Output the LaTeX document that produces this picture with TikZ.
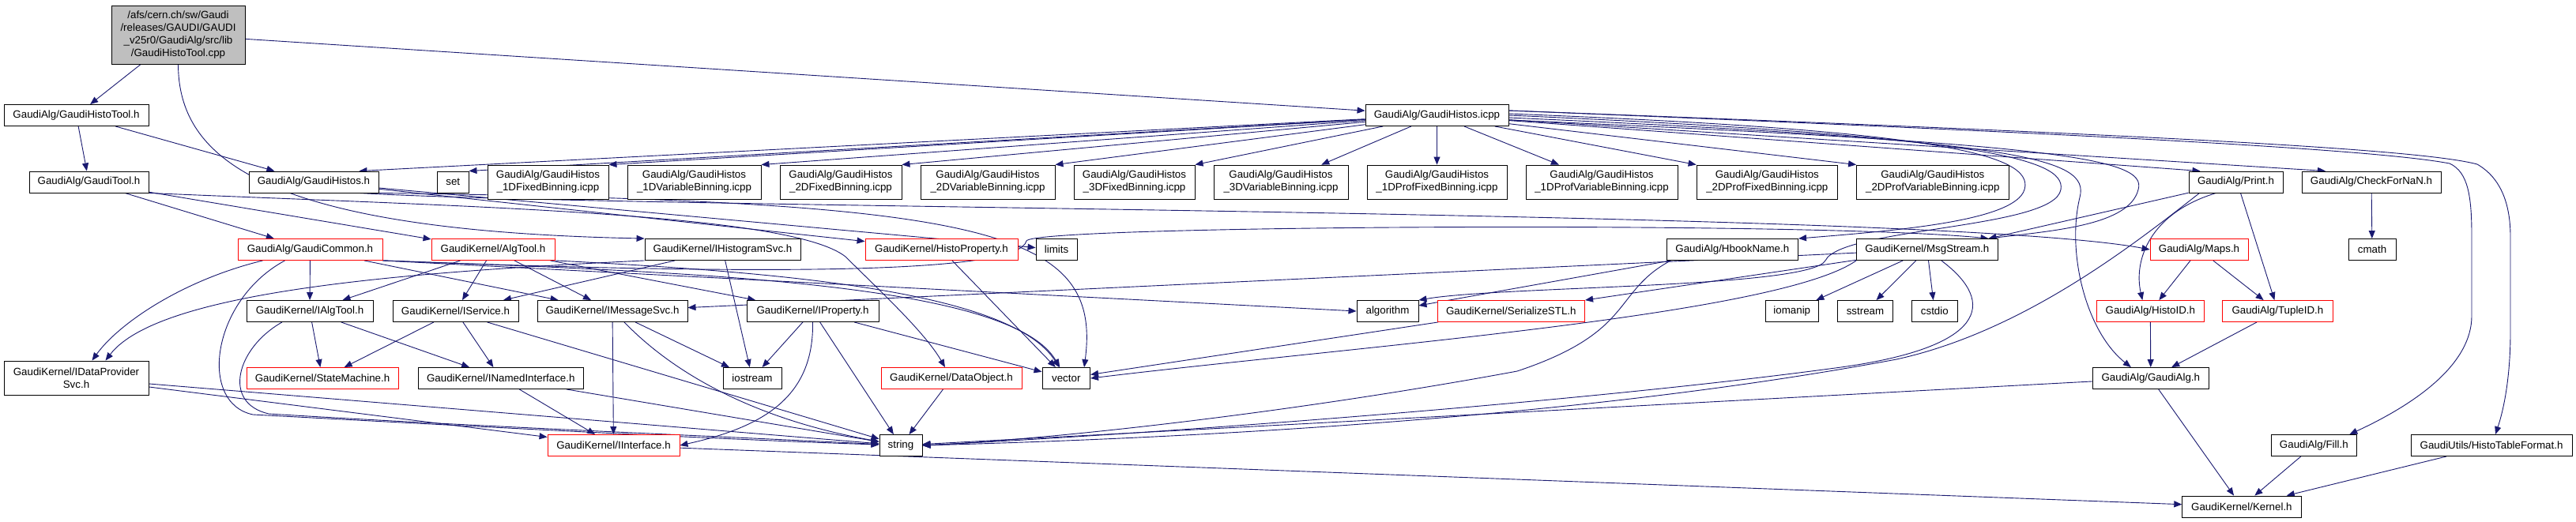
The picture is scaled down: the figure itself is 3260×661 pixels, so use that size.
\documentclass[tikz,border=0pt]{standalone}
\usepackage{fontspec}
\setmainfont{Liberation Sans}
\usetikzlibrary{arrows.meta}
\definecolor{edgeblue}{RGB}{25,25,112}
\definecolor{rootgray}{RGB}{191,191,191}
\pgfdeclarelayer{back}
\pgfdeclarelayer{bg}
\pgfsetlayers{back,bg,main}
\begin{document}
\begin{tikzpicture}[x=1pt,y=-1pt,
  box/.style={draw=black, line width=0.9pt, fill=white, inner sep=0pt, align=center,
    font=\fontsize{13.33}{16}\selectfont, minimum height=27pt},
  rbox/.style={box, draw=red},
  tall/.style={minimum height=43pt},
  dep/.style={draw=edgeblue, line width=0.9pt, -{Triangle[length=10pt,width=8pt]}}]
\begin{pgfonlayer}{back}
\fill[white] (0,0) rectangle (3260,661);
\end{pgfonlayer}
\useasboundingbox (0,0) rectangle (3260,661);
% row 1-2
\node[box, minimum width=169pt, minimum height=74pt, fill=rootgray] (root) at (225.5,44) {/afs/cern.ch/sw/Gaudi\\/releases/GAUDI/GAUDI\\\_v25r0/GaudiAlg/src/lib\\/GaudiHistoTool.cpp};
\node[box, minimum width=183pt] (ght) at (96.5,146) {GaudiAlg/GaudiHistoTool.h};
\node[box, minimum width=181pt] (icpp) at (1818.5,146) {GaudiAlg/GaudiHistos.icpp};
% row 3
\node[box, minimum width=151pt] (gt) at (112.5,230.5) {GaudiAlg/GaudiTool.h};
\node[box, minimum width=164pt] (gh) at (397,230.5) {GaudiAlg/GaudiHistos.h};
\node[box, minimum width=39.4pt] (set) at (573.3,230.5) {set};
\node[box, tall, minimum width=153pt] (b1) at (693.5,230.5) {GaudiAlg/GaudiHistos\\\_1DFixedBinning.icpp};
\node[box, tall, minimum width=169pt] (b2) at (878.5,230.5) {GaudiAlg/GaudiHistos\\\_1DVariableBinning.icpp};
\node[box, tall, minimum width=154pt] (b3) at (1064,230.5) {GaudiAlg/GaudiHistos\\\_2DFixedBinning.icpp};
\node[box, tall, minimum width=170pt] (b4) at (1250,230.5) {GaudiAlg/GaudiHistos\\\_2DVariableBinning.icpp};
\node[box, tall, minimum width=153pt] (b5) at (1435.5,230.5) {GaudiAlg/GaudiHistos\\\_3DFixedBinning.icpp};
\node[box, tall, minimum width=170pt] (b6) at (1621,230.5) {GaudiAlg/GaudiHistos\\\_3DVariableBinning.icpp};
\node[box, tall, minimum width=177pt] (b7) at (1818.5,230.5) {GaudiAlg/GaudiHistos\\\_1DProfFixedBinning.icpp};
\node[box, tall, minimum width=192pt] (b8) at (2027,230.5) {GaudiAlg/GaudiHistos\\\_1DProfVariableBinning.icpp};
\node[box, tall, minimum width=178.5pt] (b9) at (2236.3,230.5) {GaudiAlg/GaudiHistos\\\_2DProfFixedBinning.icpp};
\node[box, tall, minimum width=192.5pt] (b10) at (2445.8,230.5) {GaudiAlg/GaudiHistos\\\_2DProfVariableBinning.icpp};
\node[box, minimum width=119pt] (print) at (2829.5,230.5) {GaudiAlg/Print.h};
\node[box, minimum width=176pt] (checknan) at (3001,230.5) {GaudiAlg/CheckForNaN.h};
% row 4
\node[rbox, minimum width=183pt] (gcommon) at (392.5,316) {GaudiAlg/GaudiCommon.h};
\node[rbox, minimum width=156pt] (algtool) at (624,316) {GaudiKernel/AlgTool.h};
\node[box, minimum width=197pt] (ihsvc) at (914.5,316) {GaudiKernel/IHistogramSvc.h};
\node[rbox, minimum width=193pt] (hprop) at (1191.5,316) {GaudiKernel/HistoProperty.h};
\node[box, minimum width=52pt] (limits) at (1337,316) {limits};
\node[box, minimum width=166.5pt] (hbook) at (2192.3,316) {GaudiAlg/HbookName.h};
\node[box, minimum width=178.5pt] (msgstream) at (2438.8,316) {GaudiKernel/MsgStream.h};
\node[rbox, minimum width=124pt] (maps) at (2783,316) {GaudiAlg/Maps.h};
\node[box, minimum width=60pt] (cmath) at (3002,316) {cmath};
% row 5
\node[box, minimum width=160pt] (ialgtool) at (392,394) {GaudiKernel/IAlgTool.h};
\node[box, minimum width=159pt] (iservice) at (576.5,394) {GaudiKernel/IService.h};
\node[box, minimum width=190pt] (imsgsvc) at (775,394) {GaudiKernel/IMessageSvc.h};
\node[box, minimum width=167pt] (iproperty) at (1028.5,394) {GaudiKernel/IProperty.h};
\node[box, minimum width=78pt] (algorithm) at (1756,394) {algorithm};
\node[rbox, minimum width=186.6pt] (serialize) at (1912.3,394) {GaudiKernel/SerializeSTL.h};
\node[box, minimum width=67.5pt] (iomanip) at (2267.8,394) {iomanip};
\node[box, minimum width=70pt] (sstream) at (2360.5,394) {sstream};
\node[box, minimum width=58.5pt] (cstdio) at (2448.3,394) {cstdio};
\node[rbox, minimum width=135.4pt] (histoid) at (2721.3,394) {GaudiAlg/HistoID.h};
\node[rbox, minimum width=139.2pt] (tupleid) at (2882.4,394) {GaudiAlg/TupleID.h};
% row 6
\node[box, tall, minimum width=183pt] (idp) at (96.5,478.5) {GaudiKernel/IDataProvider\\Svc.h};
\node[rbox, minimum width=192pt] (statem) at (408,479) {GaudiKernel/StateMachine.h};
\node[box, minimum width=208.4pt] (inamed) at (633.8,479) {GaudiKernel/INamedInterface.h};
\node[box, minimum width=74pt] (iostream) at (952,479) {iostream};
\node[rbox, minimum width=178pt] (dataobj) at (1204,479) {GaudiKernel/DataObject.h};
\node[box, minimum width=60.6pt] (vector) at (1349.3,479) {vector};
\node[box, minimum width=146.5pt] (gaudialg) at (2721.8,479) {GaudiAlg/GaudiAlg.h};
% row 7-8
\node[rbox, minimum width=167pt] (iinterface) at (776.5,564) {GaudiKernel/IInterface.h};
\node[box, minimum width=54pt] (string) at (1140,564) {string};
\node[box, minimum width=107.5pt] (fill) at (2928.3,564) {GaudiAlg/Fill.h};
\node[box, minimum width=204pt] (htf) at (3153,564) {GaudiUtils/HistoTableFormat.h};
\node[box, minimum width=150.3pt] (kernel) at (2836.9,641.5) {GaudiKernel/Kernel.h};

\begin{pgfonlayer}{bg}
% root
\draw[dep] (root) -- (ght);
\draw[dep] (root) -- (icpp);
\draw[dep] (root.south) .. controls (226,200) and (330,292) .. (ihsvc.north west);
% GaudiHistoTool.h
\draw[dep] (ght) -- (gt);
\draw[dep] (ght) -- (gh);
% GaudiTool.h
\draw[dep] (gt) -- (gcommon);
\draw[dep] (gt) -- (algtool);
\draw[dep] (gt.south east) .. controls (600,262) and (1000,270) .. (1070,325) .. controls (1110,365) and (1170,420) .. (dataobj);
% GaudiHistos.h
\draw[dep] (gh) -- (limits);
\draw[dep] (gh) -- (hprop);
\draw[dep] (gh.south east) .. controls (1250,255) and (1395,290) .. ([xshift=-8pt]vector.north east);
\draw[dep] ([xshift=-25pt]gh.south east) .. controls (800,265) and (2450,265) .. (maps.west);
% GaudiHistos.icpp
\draw[dep] (icpp) -- (set.north east);
\draw[dep] (icpp) -- (b1.north east);
\draw[dep] (icpp) -- (b2.north east);
\draw[dep] (icpp) -- (b3.north east);
\draw[dep] (icpp) -- (b4.north east);
\draw[dep] (icpp) -- (b5.north east);
\draw[dep] (icpp) -- (b6);
\draw[dep] (icpp) -- (b7);
\draw[dep] (icpp) -- (b8);
\draw[dep] (icpp) -- (b9.north west);
\draw[dep] (icpp) -- (b10.north west);
\draw[dep] (icpp) -- ([xshift=-25pt]gh.north east);
\draw[dep] (icpp) -- ([xshift=-45pt]print.north);
\draw[dep] (icpp) -- ([xshift=-58pt]checknan.north);
\draw[dep] ([yshift=2pt]icpp.east) .. controls (2450,165) and (2575,195) .. (2562,240) .. controls (2550,280) and (2400,292) .. (hbook.north east);
\draw[dep] (icpp.east) .. controls (2500,172) and (2615,200) .. (2608,240) .. controls (2600,290) and (2330,288) .. (2310,330) .. controls (2290,365) and (1900,362) .. (algorithm.north east);
\draw[dep] ([yshift=-3pt]icpp.east) .. controls (2560,178) and (2645,200) .. (2632,250) .. controls (2615,320) and (2640,420) .. ([xshift=-25pt]gaudialg.north);
\draw[dep] ([yshift=-6pt]icpp.east) .. controls (2600,182) and (2718,200) .. (2706,240) .. controls (2695,285) and (2600,292) .. ([xshift=-12pt]msgstream.north east);
\draw[dep] ([yshift=6pt]icpp.east) .. controls (2600,168) and (3000,188) .. (3100,207) .. controls (3124,218) and (3128,250) .. (3128,300) -- (3128,400) .. controls (3128,460) and (3060,510) .. ([xshift=45pt]fill.north);
\draw[dep] ([yshift=6pt]icpp.east) .. controls (2700,170) and (3060,188) .. (3135,208) .. controls (3166,226) and (3177,260) .. (3177,300) -- (3177,420) .. controls (3177,480) and (3168,520) .. ([xshift=5pt]htf.north);
\draw[dep] (checknan) -- (cmath);
% GaudiCommon.h
\draw[dep] (gcommon) -- (ialgtool);
\draw[dep] ([xshift=-60pt]gcommon.south) .. controls (230,355) and (150,410) .. ([xshift=20pt]idp.north);
\draw[dep] ([xshift=-32pt]gcommon.south) .. controls (268,380) and (250,510) .. (320,525) .. controls (600,540) and (900,556) .. (string);
\draw[dep] (gcommon) -- (imsgsvc);
\draw[dep] (gcommon.south east) -- (algorithm.west);
\draw[dep] (gcommon.south east) .. controls (900,345) and (1280,360) .. (vector);
\draw[dep] (gcommon.south east) .. controls (1000,350) and (1290,345) .. (1299,305) .. controls (1310,285) and (2300,280) .. ([xshift=-12pt]msgstream.north east);
% AlgTool.h
\draw[dep] (algtool) -- (ialgtool);
\draw[dep] (algtool) -- (iservice);
\draw[dep] (algtool) -- (imsgsvc);
\draw[dep] (algtool) -- (iproperty);
\draw[dep] (algtool.south east) .. controls (1000,345) and (1280,370) .. (vector);
% IHistogramSvc.h
\draw[dep] (ihsvc.south west) .. controls (500,345) and (200,370) .. ([xshift=37pt]idp.north);
\draw[dep] (ihsvc) -- (iservice);
\draw[dep] (ihsvc) -- (iostream);
\draw[dep] (hprop) -- (vector);
% IService / IAlgTool
\draw[dep] (iservice) -- (inamed);
\draw[dep] (iservice) -- (statem);
\draw[dep] ([xshift=40pt]iservice.south) -- (string);
\draw[dep] (ialgtool) -- (statem);
\draw[dep] (ialgtool) -- (inamed);
\draw[dep] ([xshift=-35pt]ialgtool.south) .. controls (300,440) and (280,510) .. (340,524) .. controls (600,540) and (900,552) .. (string);
% IMessageSvc / IProperty
\draw[dep] (imsgsvc) -- (iinterface);
\draw[dep] (imsgsvc) -- (iostream);
\draw[dep] ([xshift=15pt]imsgsvc.south) .. controls (850,470) and (950,530) .. (string);
\draw[dep] (iproperty) -- (iostream);
\draw[dep] (iproperty) -- (string);
\draw[dep] (iproperty) -- (vector);
\draw[dep] (iproperty.south) .. controls (1030,500) and (970,540) .. (iinterface.east);
% lower left
\draw[dep] (inamed) -- (iinterface);
\draw[dep] (inamed) -- (string);
\draw[dep] (idp) -- (iinterface);
\draw[dep] (idp) -- (string);
\draw[dep] (dataobj) -- (string);
\draw[dep] (iinterface) -- (kernel);
% HbookName / MsgStream
\draw[dep] (hbook) -- (algorithm);
\draw[dep] ([xshift=-78pt]hbook.south) .. controls (2040,370) and (2070,420) .. (1920,470) .. controls (1650,520) and (1350,555) .. (string.east);
\draw[dep] (msgstream) -- (iomanip);
\draw[dep] (msgstream) -- (sstream);
\draw[dep] (msgstream) -- (cstdio);
\draw[dep] (msgstream) -- (serialize.north east);
\draw[dep] (msgstream) -- (imsgsvc);
\draw[dep] ([xshift=18pt]msgstream.south) .. controls (2530,385) and (2510,440) .. (2330,465) .. controls (2000,510) and (1450,550) .. (string.east);
\draw[dep] (msgstream.south west) .. controls (2250,400) and (1700,440) .. (vector.east);
\draw[dep] (serialize) -- (vector);
% Print / Maps
\draw[dep] (print) -- ([xshift=-12pt]msgstream.north east);
\draw[dep] ([xshift=-25pt]print.south) .. controls (2720,270) and (2700,330) .. ([xshift=-10pt]histoid.north);
\draw[dep] ([xshift=6pt]print.south) -- ([xshift=-4pt]tupleid.north);
\draw[dep] ([xshift=-46pt]print.south) .. controls (2700,310) and (2560,420) .. (2400,455) .. controls (2000,530) and (1500,555) .. (string.east);
\draw[dep] (maps) -- (histoid);
\draw[dep] (maps) -- (tupleid);
\draw[dep] (histoid) -- (gaudialg);
\draw[dep] (tupleid) -- (gaudialg);
\draw[dep] (gaudialg) -- (kernel);
\draw[dep] (gaudialg) -- (string);
\draw[dep] (fill) -- (kernel);
\draw[dep] (htf) -- (kernel);
\end{pgfonlayer}
\end{tikzpicture}
\end{document}
